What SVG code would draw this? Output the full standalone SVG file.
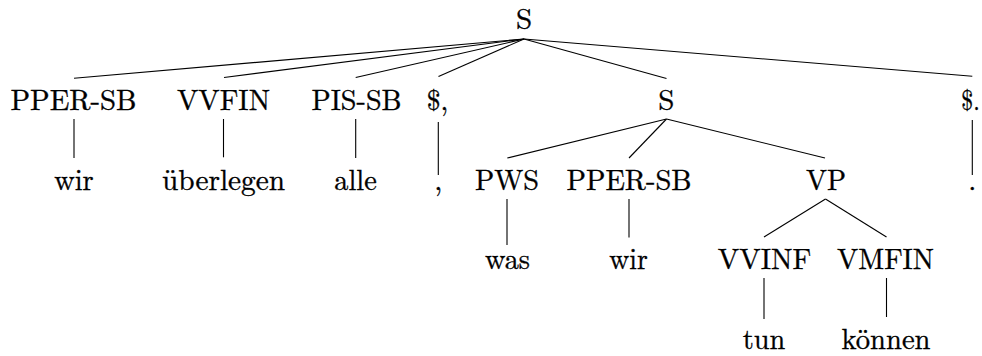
<svg xmlns="http://www.w3.org/2000/svg" width="982" height="356" viewBox="0 0 982 356">
  <style>
    .lbl { font-family: "CMU Serif", "Latin Modern Roman", "Liberation Serif", "DejaVu Serif", "Noto Serif", "Tinos", "TeX Gyre Termes", "Nimbus Roman", "FreeSerif", "Times New Roman", Times, serif; font-size: 29px; fill: #000; stroke: #000; stroke-width: 0.35; text-anchor: middle; }
    .edge line { stroke: #000; stroke-width: 1.1; stroke-linecap: butt; }
  </style>
  <rect width="982" height="356" fill="#fff"/>

  <!-- tree edges -->
  <g id="edges" class="edge">
    <!-- S (root) to its children -->
    <line x1="524" y1="39" x2="74" y2="78.3"/>
    <line x1="524" y1="39" x2="224" y2="77.5"/>
    <line x1="524" y1="39" x2="355.7" y2="77.5"/>
    <line x1="524" y1="39" x2="438.5" y2="76.5"/>
    <line x1="524" y1="39" x2="666.5" y2="78.5"/>
    <line x1="524" y1="39" x2="972.3" y2="76.3"/>
    <!-- preterminals to words, first row -->
    <line x1="74" y1="119" x2="74" y2="158"/>
    <line x1="223.5" y1="119" x2="223.5" y2="157.3"/>
    <line x1="355.7" y1="119" x2="355.7" y2="158"/>
    <line x1="438.3" y1="122" x2="438.3" y2="175"/>
    <line x1="972.3" y1="120" x2="972.3" y2="175"/>
    <!-- embedded S to its children -->
    <line x1="666.5" y1="119" x2="507.3" y2="158"/>
    <line x1="666.5" y1="119" x2="629" y2="158"/>
    <line x1="666.5" y1="119" x2="825" y2="158"/>
    <!-- PWS / PPER-SB to words -->
    <line x1="507" y1="199" x2="507" y2="245"/>
    <line x1="629" y1="199" x2="629" y2="237.5"/>
    <!-- VP to its children -->
    <line x1="825.5" y1="199" x2="764" y2="237"/>
    <line x1="825.5" y1="199" x2="886.5" y2="237"/>
    <!-- verbs to words -->
    <line x1="764" y1="278" x2="764" y2="319"/>
    <line x1="886.5" y1="278" x2="886.5" y2="317"/>
  </g>

  <!-- level 0 -->
  <g id="n-S-root"><text class="lbl" x="524" y="28.5">S</text></g>

  <!-- level 1 -->
  <g id="n-PPER-SB-1"><text class="lbl" x="73.5" y="109.5" textLength="126" lengthAdjust="spacingAndGlyphs">PPER-SB</text></g>
  <g id="n-VVFIN"><text class="lbl" x="223.5" y="109.5" textLength="93" lengthAdjust="spacingAndGlyphs">VVFIN</text></g>
  <g id="n-PIS-SB"><text class="lbl" x="356.5" y="109.5" textLength="90" lengthAdjust="spacingAndGlyphs">PIS-SB</text></g>
  <g id="n-comma-tag"><text class="lbl" x="437.5" y="109.5" textLength="21.5" lengthAdjust="spacingAndGlyphs">$,</text></g>
  <g id="n-S-sub"><text class="lbl" x="666.3" y="109.5">S</text></g>
  <g id="n-period-tag"><text class="lbl" x="970.5" y="109.5" textLength="18.5" lengthAdjust="spacingAndGlyphs">$.</text></g>

  <!-- level 2 -->
  <g id="n-wir-1"><text class="lbl" x="74" y="189.5" textLength="39.5" lengthAdjust="spacingAndGlyphs">wir</text></g>
  <g id="n-ueberlegen"><text class="lbl" x="223.5" y="189.5" textLength="123" lengthAdjust="spacingAndGlyphs">überlegen</text></g>
  <g id="n-alle"><text class="lbl" x="355.5" y="189.5" textLength="42.5" lengthAdjust="spacingAndGlyphs">alle</text></g>
  <g id="n-comma"><text class="lbl" x="438.3" y="189.5">,</text></g>
  <g id="n-PWS"><text class="lbl" x="507" y="189.5" textLength="64" lengthAdjust="spacingAndGlyphs">PWS</text></g>
  <g id="n-PPER-SB-2"><text class="lbl" x="629" y="189.5" textLength="125" lengthAdjust="spacingAndGlyphs">PPER-SB</text></g>
  <g id="n-VP"><text class="lbl" x="826" y="189.5" textLength="40" lengthAdjust="spacingAndGlyphs">VP</text></g>
  <g id="n-period"><text class="lbl" x="972.3" y="189.5">.</text></g>

  <!-- level 3 -->
  <g id="n-was"><text class="lbl" x="507.5" y="269" textLength="45" lengthAdjust="spacingAndGlyphs">was</text></g>
  <g id="n-wir-2"><text class="lbl" x="628.5" y="269" textLength="38.5" lengthAdjust="spacingAndGlyphs">wir</text></g>
  <g id="n-VVINF"><text class="lbl" x="764.5" y="269" textLength="93.5" lengthAdjust="spacingAndGlyphs">VVINF</text></g>
  <g id="n-VMFIN"><text class="lbl" x="885.5" y="269" textLength="97" lengthAdjust="spacingAndGlyphs">VMFIN</text></g>

  <!-- level 4 -->
  <g id="n-tun"><text class="lbl" x="764" y="348.5" textLength="42.5" lengthAdjust="spacingAndGlyphs">tun</text></g>
  <g id="n-koennen"><text class="lbl" x="886" y="348.5" textLength="89" lengthAdjust="spacingAndGlyphs">können</text></g>
</svg>
